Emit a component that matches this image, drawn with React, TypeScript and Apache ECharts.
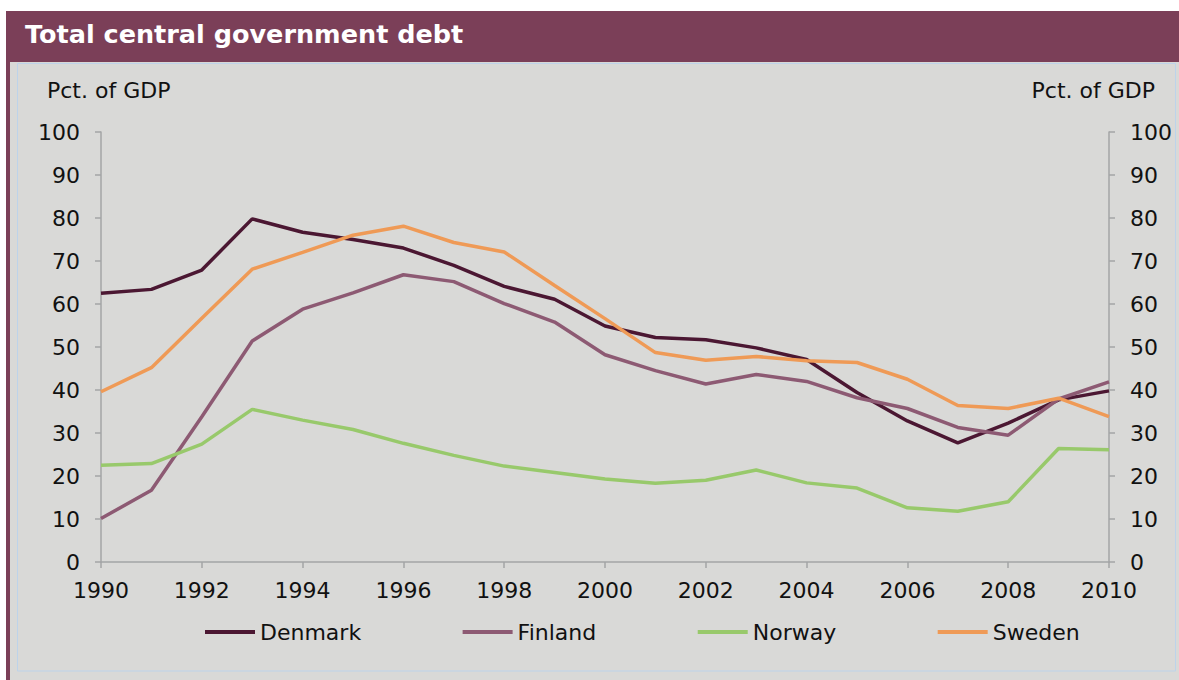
import React, { useEffect, useRef } from "react";
import * as echarts from "echarts";

// Central government debt, percent of GDP
const years = [1990, 1991, 1992, 1993, 1994, 1995, 1996, 1997, 1998, 1999, 2000, 2001, 2002, 2003, 2004, 2005, 2006, 2007, 2008, 2009, 2010];
const denmark = [62.5, 63.4, 67.9, 79.8, 76.7, 75.0, 73.0, 69.0, 64.1, 61.1, 54.9, 52.2, 51.7, 49.8, 47.1, 39.4, 32.8, 27.7, 32.3, 37.7, 39.8];
const finland = [10.1, 16.7, 33.8, 51.4, 58.8, 62.6, 66.8, 65.2, 60.1, 55.8, 48.2, 44.5, 41.4, 43.6, 42.0, 38.2, 35.7, 31.3, 29.5, 37.9, 41.9];
const norway = [22.5, 22.9, 27.4, 35.5, 33.0, 30.8, 27.6, 24.8, 22.3, 20.8, 19.3, 18.3, 19.0, 21.4, 18.4, 17.2, 12.6, 11.8, 14.0, 26.4, 26.1];
const sweden = [39.6, 45.2, 56.7, 68.1, 72.0, 76.0, 78.1, 74.3, 72.1, 64.3, 56.6, 48.7, 46.9, 47.8, 46.8, 46.4, 42.5, 36.4, 35.7, 38.1, 33.8];

const seriesNames = ["Denmark", "Finland", "Norway", "Sweden"];
const seriesValues = [denmark, finland, norway, sweden];
const seriesColors = ["#4b1732", "#8d5a73", "#98c96b", "#ef9a56"];

const title = "Total central government debt";
const axisUnit = "Pct. of GDP";

const FONT = "'DejaVu Sans', Verdana, sans-serif";
const TEXT = "#111111";
const AXIS = "#a3a5a6";

export default function App() {
  const ref = useRef<HTMLDivElement>(null);

  useEffect(() => {
    if (!ref.current) return;
    const chart = echarts.init(ref.current, null, { renderer: "svg" });

    const yAxisCommon = {
      type: "value",
      min: 0,
      max: 100,
      interval: 10,
      splitLine: { show: false },
      axisLine: { show: true, lineStyle: { color: AXIS, width: 1.5 } },
      axisTick: { show: true, length: 6, lineStyle: { color: AXIS, width: 1.5 } },
      axisLabel: { color: TEXT, fontFamily: FONT, fontSize: 22, margin: 21 },
    };

    chart.setOption({
      animation: false,
      backgroundColor: "#ffffff",
      graphic: [
        { type: "rect", shape: { x: 10, y: 62, width: 1169, height: 618 }, style: { fill: "#d9d9d7" }, z: -10 },
        { type: "rect", shape: { x: 6, y: 11, width: 1173, height: 51 }, style: { fill: "#7b3f58" }, z: -9 },
        { type: "rect", shape: { x: 6, y: 11, width: 4, height: 669 }, style: { fill: "#7b3f58" }, z: -9 },
        {
          type: "rect",
          shape: { x: 17.5, y: 63.5, width: 1158, height: 607.5 },
          style: { fill: "none", stroke: "#bdd3ea", lineWidth: 1 },
          z: -8,
        },
        {
          type: "text",
          left: 25,
          top: 21,
          style: { text: title, fill: "#ffffff", font: `bold 25.5px ${FONT}` },
        },
        {
          type: "text",
          left: 47,
          top: 79,
          style: { text: axisUnit, fill: TEXT, font: `22px ${FONT}` },
        },
        {
          type: "text",
          right: 24,
          top: 79,
          style: { text: axisUnit, fill: TEXT, font: `22px ${FONT}` },
        },
      ],
      grid: { left: 101, right: 70, top: 132, bottom: 118, containLabel: false },
      legend: {
        left: 200,
        top: 616,
        itemWidth: 50,
        itemHeight: 4,
        itemGap: 101.5,
        icon: "rect",
        textStyle: { color: TEXT, fontFamily: FONT, fontSize: 22 },
        data: seriesNames,
      },
      xAxis: {
        type: "value",
        min: 1990,
        max: 2010,
        interval: 2,
        splitLine: { show: false },
        axisLine: { show: true, lineStyle: { color: AXIS, width: 1.5 } },
        axisTick: { show: true, length: 6, lineStyle: { color: AXIS, width: 1.5 } },
        axisLabel: {
          color: TEXT,
          fontFamily: FONT,
          fontSize: 22,
          margin: 17,
          formatter: (v: number) => String(v),
        },
      },
      yAxis: [
        { ...yAxisCommon, position: "left" },
        { ...yAxisCommon, position: "right" },
      ],
      series: seriesNames.map((name, i) => ({
        name,
        type: "line",
        yAxisIndex: 0,
        symbol: "none",
        color: seriesColors[i],
        lineStyle: { color: seriesColors[i], width: 3.5 },
        itemStyle: { color: seriesColors[i] },
        data: years.map((y, j) => [y, seriesValues[i][j]]),
      })),
    });

    return () => chart.dispose();
  }, []);

  return (
    <div
      ref={ref}
      style={{ position: "fixed", left: 0, top: 0, width: 1179, height: 680 }}
    />
  );
}
